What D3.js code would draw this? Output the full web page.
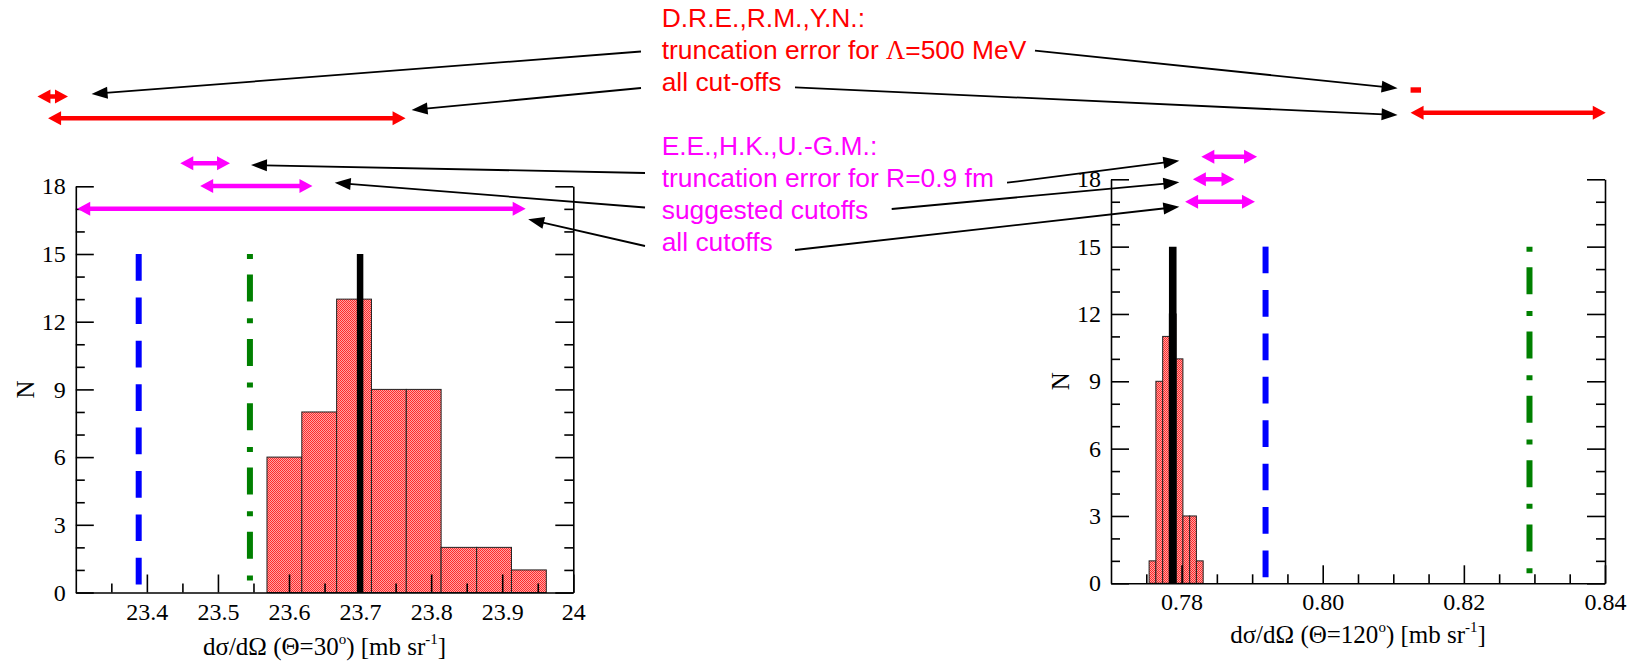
<!DOCTYPE html>
<html>
<head>
<meta charset="utf-8">
<script src="https://cdn.jsdelivr.net/npm/d3@7"></script>
<style>
  body { margin: 0; background: #fff; }
  svg { display: block; }
</style>
</head>
<body>
<svg id="chart" width="1636" height="663"></svg>
<script>
// ---- data: 30 degree panel ----
const binEdges30 = [23.569, 23.618, 23.667, 23.716, 23.765, 23.814, 23.864, 23.913, 23.962];
const counts30 = [6, 8, 13, 9, 9, 2, 2, 1];
const blue30 = 23.3885;   // dashed line
const green30 = 23.545;   // dash-dotted line
const black30 = 23.700;   // solid line
const xTicks30 = [23.4, 23.5, 23.6, 23.7, 23.8, 23.9, 24];
const xMinor30 = [23.35, 23.45, 23.55, 23.65, 23.75, 23.85, 23.95];
const redTrunc30 = [23.246, 23.289];
const redAll30 = [23.261, 23.764];
const pinkTrunc30 = [23.447, 23.517];
const pinkSuggested30 = [23.475, 23.633];
const pinkAll30 = [23.302, 23.933];

// ---- data: 120 degree panel ----
const binEdges120 = [0.77540, 0.77636, 0.77732, 0.77827, 0.77923, 0.78019, 0.78115, 0.78210, 0.78306];
const counts120 = [1, 9, 11, 12, 10, 3, 3, 1];
const blue120 = 0.7919;
const green120 = 0.8293;
const black120 = 0.77875;
const xTicks120 = [0.78, 0.80, 0.82, 0.84];
const xMinor120 = [0.775, 0.785, 0.79, 0.795, 0.805, 0.81, 0.815, 0.825, 0.83, 0.835];
const redTrunc120 = [0.81245, 0.81393];
const redAll120 = [0.81245, 0.84011];
const pinkTrunc120 = [0.7828, 0.7907];
const pinkSuggested120 = [0.7816, 0.7875];
const pinkAll120 = [0.7805, 0.7904];

// ---- shared ----
const yTicks = [0, 3, 6, 9, 12, 15, 18];
const yMinor = [1, 2, 4, 5, 7, 8, 10, 11, 13, 14, 16, 17];
const lineTop = 15;
const redLines = ["D.R.E.,R.M.,Y.N.:", "truncation error for \u039B=500 MeV", "all cut-offs"];
const pinkLines = ["E.E.,H.K.,U.-G.M.:", "truncation error for R=0.9 fm", "suggested cutoffs", "all cutoffs"];

const RED = "#ff0000", PINK = "#ff00ff", BLUE = "#0000ff", GREEN = "#008000";
const SERIF = "'Liberation Serif', 'Times New Roman', serif";
const SANS = "'Liberation Sans', Arial, Helvetica, sans-serif";

const svg = d3.select("#chart");
const defs = svg.append("defs");

// stippled histogram fill
const pat = defs.append("pattern").attr("id", "stipple")
  .attr("width", 2).attr("height", 2).attr("patternUnits", "userSpaceOnUse");
pat.append("rect").attr("width", 2).attr("height", 2).attr("fill", "#ffa3a3");
pat.append("rect").attr("width", 1).attr("height", 1).attr("fill", "#ff2a2a");
pat.append("rect").attr("x", 1).attr("y", 1).attr("width", 1).attr("height", 1).attr("fill", "#ff2a2a");

function drawPanel(cfg) {
  const { x, y } = cfg;
  const g = svg.append("g");
  const [x0, x1] = x.range();
  const [y0, y1] = y.range();

  // histogram bars
  g.append("g").selectAll("rect")
    .data(cfg.counts.map((c, i) => ({ c, a: cfg.edges[i], b: cfg.edges[i + 1] })))
    .join("rect")
    .attr("x", d => x(d.a))
    .attr("width", d => x(d.b) - x(d.a))
    .attr("y", d => y(d.c))
    .attr("height", d => y(0) - y(d.c))
    .attr("fill", "url(#stipple)")
    .attr("stroke", "#222")
    .attr("stroke-width", 1);

  // reference lines, drawn from the top down
  const refs = [
    { v: cfg.blue, color: BLUE, dash: "26.7,16.7", w: 6 },
    { v: cfg.green, color: GREEN, dash: "5,15.6,27,16.7", w: 6 },
    { v: cfg.black, color: "#000", dash: null, w: cfg.blackWidth }
  ];
  g.append("g").selectAll("line").data(refs).join("line")
    .attr("x1", d => x(d.v)).attr("x2", d => x(d.v))
    .attr("y1", y(lineTop)).attr("y2", y(0))
    .attr("stroke", d => d.color)
    .attr("stroke-width", d => d.w)
    .attr("stroke-dasharray", d => d.dash);

  const tickStyle = sel => {
    sel.selectAll("path.domain").attr("stroke", "#000").attr("stroke-width", 1.6);
    sel.selectAll(".tick line").attr("stroke", "#000").attr("stroke-width", 1.6);
    sel.selectAll(".tick text").attr("font-family", SERIF).attr("font-size", 24).attr("fill", "#000");
  };

  // left axis
  g.append("g").attr("transform", `translate(${x0},0)`)
    .call(d3.axisLeft(y).tickValues(yTicks).tickSizeInner(-18).tickSizeOuter(0).tickPadding(10))
    .call(tickStyle);
  g.append("g").attr("transform", `translate(${x0},0)`)
    .call(d3.axisLeft(y).tickValues(yMinor).tickSizeInner(-9).tickSizeOuter(0).tickFormat(""))
    .call(tickStyle).call(s => s.select("path.domain").remove());
  // right axis
  g.append("g").attr("transform", `translate(${x1},0)`)
    .call(d3.axisRight(y).tickValues(yTicks).tickSizeInner(-18).tickSizeOuter(0).tickFormat(""))
    .call(tickStyle);
  g.append("g").attr("transform", `translate(${x1},0)`)
    .call(d3.axisRight(y).tickValues(yMinor).tickSizeInner(-9).tickSizeOuter(0).tickFormat(""))
    .call(tickStyle).call(s => s.select("path.domain").remove());
  // bottom axis
  g.append("g").attr("transform", `translate(0,${y0})`)
    .call(d3.axisBottom(x).tickValues(cfg.xTicks).tickSizeInner(-18).tickSizeOuter(0)
      .tickPadding(10).tickFormat(cfg.fmt))
    .call(tickStyle);
  g.append("g").attr("transform", `translate(0,${y0})`)
    .call(d3.axisBottom(x).tickValues(cfg.xMinor).tickSizeInner(-9).tickSizeOuter(0).tickFormat(""))
    .call(tickStyle).call(s => s.select("path.domain").remove());

  // axis titles
  g.append("text")
    .attr("transform", `translate(${cfg.nX},${y(9)}) rotate(-90)`)
    .attr("text-anchor", "middle").attr("dy", "0.35em")
    .attr("font-family", SERIF).attr("font-size", 25).text("N");

  const t = g.append("text")
    .attr("x", (x0 + x1) / 2).attr("y", y0 + cfg.titleOffset)
    .attr("text-anchor", "middle")
    .attr("font-family", SERIF).attr("font-size", 25);
  t.append("tspan").text(`d\u03C3/d\u03A9 (\u0398=${cfg.angle}`);
  t.append("tspan").attr("dy", -11).attr("font-size", 15).text("o");
  t.append("tspan").attr("dy", 11).text(") [mb sr");
  t.append("tspan").attr("dy", -11).attr("font-size", 15).text("-1");
  t.append("tspan").attr("dy", 11).text("]");
}

const x30 = d3.scaleLinear([23.3, 24.0], [75.8, 573.3]);
const y30 = d3.scaleLinear([0, 18], [592.5, 186.3]);
const x120 = d3.scaleLinear([0.77, 0.84], [1111, 1605]);
const y120 = d3.scaleLinear([0, 18], [583.3, 179.3]);

drawPanel({ x: x30, y: y30, edges: binEdges30, counts: counts30,
  blue: blue30, green: green30, black: black30, blackWidth: 6.5,
  xTicks: xTicks30, xMinor: xMinor30, fmt: d3.format("~g"),
  nX: 25, titleOffset: 62, angle: "30" });
drawPanel({ x: x120, y: y120, edges: binEdges120, counts: counts120,
  blue: blue120, green: green120, black: black120, blackWidth: 7.6,
  xTicks: xTicks120, xMinor: xMinor120, fmt: d3.format(".2f"),
  nX: 1060, titleOffset: 60, angle: "120" });

// ---- double-headed range arrows ----
function rangeArrow(xs, range, yPos, color) {
  const a = xs(range[0]), b = xs(range[1]);
  const L = b - a;
  if (L < 16) {
    // too short for heads: a small solid block
    svg.append("rect").attr("x", a).attr("y", yPos - 2.7)
      .attr("width", L).attr("height", 5.4).attr("fill", color);
    return;
  }
  const hl = Math.min(13, L / 2);
  const hw = 7 * hl / 13;
  const sw = Math.min(2.3, hw);
  const p = d3.path();
  p.moveTo(a, yPos);
  p.lineTo(a + hl, yPos - hw);
  p.lineTo(a + hl, yPos - sw);
  p.lineTo(b - hl, yPos - sw);
  p.lineTo(b - hl, yPos - hw);
  p.lineTo(b, yPos);
  p.lineTo(b - hl, yPos + hw);
  p.lineTo(b - hl, yPos + sw);
  p.lineTo(a + hl, yPos + sw);
  p.lineTo(a + hl, yPos + hw);
  p.closePath();
  svg.append("path").attr("d", p.toString()).attr("fill", color);
}

rangeArrow(x30, redTrunc30, 96.5, RED);
rangeArrow(x30, redAll30, 118.3, RED);
rangeArrow(x30, pinkTrunc30, 163.3, PINK);
rangeArrow(x30, pinkSuggested30, 186, PINK);
rangeArrow(x30, pinkAll30, 208.7, PINK);
rangeArrow(x120, redTrunc120, 90, RED);
rangeArrow(x120, redAll120, 112.7, RED);
rangeArrow(x120, pinkTrunc120, 156.7, PINK);
rangeArrow(x120, pinkSuggested120, 179.3, PINK);
rangeArrow(x120, pinkAll120, 201.7, PINK);

// ---- annotation text ----
function textBlock(lines, x0, yStart, color) {
  lines.forEach((s, i) => {
    const t = svg.append("text").attr("x", x0).attr("y", yStart + i * 31.9)
      .attr("font-family", SANS).attr("font-size", 26.4).attr("fill", color);
    s.split(/(\u039B)/).forEach(part => {
      if (!part) return;
      const ts = t.append("tspan").text(part);
      if (part === "\u039B") ts.attr("font-family", SERIF);
    });
  });
}
textBlock(redLines, 661.7, 27.3, RED);
textBlock(pinkLines, 661.7, 155.2, PINK);

// ---- callout arrows from the labels to the range arrows ----
const callouts = [
  { from: [641, 51.5], xs: x30, tip: 23.3222, ty: 94 },
  { from: [641, 88], xs: x30, tip: 23.7725, ty: 110 },
  { from: [645, 173], xs: x30, tip: 23.5465, ty: 165 },
  { from: [645, 207.5], xs: x30, tip: 23.6643, ty: 182.7 },
  { from: [645, 246], xs: x30, tip: 23.9365, ty: 219.3 },
  { from: [1035, 50.7], xs: x120, tip: 0.81061, ty: 88.3 },
  { from: [795, 87.3], xs: x120, tip: 0.81061, ty: 115 },
  { from: [1007, 182.7], xs: x120, tip: 0.77968, ty: 160.7 },
  { from: [891.7, 209], xs: x120, tip: 0.77968, ty: 182.3 },
  { from: [795, 250], xs: x120, tip: 0.77968, ty: 206.7 }
];
callouts.forEach(c => {
  const [sx, sy] = c.from;
  const tx = c.xs(c.tip), ty = c.ty;
  const dx = tx - sx, dy = ty - sy;
  const len = Math.hypot(dx, dy);
  const ux = dx / len, uy = dy / len;
  const hl = 16, hw = 6;
  const bx = tx - ux * hl, by = ty - uy * hl;
  svg.append("line").attr("x1", sx).attr("y1", sy).attr("x2", bx + ux * 2).attr("y2", by + uy * 2)
    .attr("stroke", "#000").attr("stroke-width", 1.8);
  svg.append("path")
    .attr("d", `M${tx},${ty}L${bx - uy * hw},${by + ux * hw}L${bx + uy * hw},${by - ux * hw}Z`)
    .attr("fill", "#000");
});
</script>
</body>
</html>
